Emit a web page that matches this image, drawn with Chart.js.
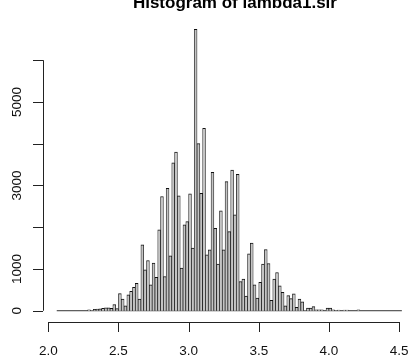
<!DOCTYPE html>
<html>
<head>
<meta charset="utf-8">
<script src="https://cdn.jsdelivr.net/npm/chart.js@4"></script>
<style>
  body { margin: 0; background: #fff; }
</style>
</head>
<body>
<canvas id="hist" width="410" height="358"></canvas>
<script>
    // bins of lambda1.sir, 0.02 wide, starting at 2.06
    const binStart = 2.06;
    const binWidth = 0.02;
    const counts = [
        0, 0, 0, 0, 0, 0, 0, 0, 0, 0,
        0, 24, 8, 35, 40, 45, 60, 70, 70, 60,
        150, 50, 410, 280, 120, 380, 462, 562, 657, 279,
        1580, 980, 1203, 621, 1139, 797, 1936, 2736, 820, 2932,
        1315, 3540, 3800, 2750, 1020, 2055, 2135, 2800, 1498, 6740,
        4000, 2812, 4366, 1338, 1458, 3314, 1976, 1116, 2390, 1458,
        3091, 1896, 3370, 2294, 3267, 700, 757, 350, 1362, 1617,
        620, 300, 680, 1115, 1466, 1130, 250, 757, 916, 598,
        438, 120, 362, 290, 406, 80, 279, 215, 10, 64,
        64, 100, 24, 24, 24, 0, 64, 64, 24, 8,
        16, 0, 16, 16, 0, 0, 0, 24, 0, 0,
        0, 0, 0, 0, 0, 0, 0, 0, 0, 0,
        0, 0, 0
    ];
    const xTicks = [2.0, 2.5, 3.0, 3.5, 4.0, 4.5];
    const xTickLabels = ['2.0', '2.5', '3.0', '3.5', '4.0', '4.5'];
    const yTicks = [0, 1000, 2000, 3000, 4000, 5000, 6000];
    const yTickLabels = ['0', '1000', '', '3000', '', '5000', ''];
    const title = 'Histogram of lambda1.sir';

    const bars = [];
    for (let i = 0; i < counts.length; i++) {
        bars.push({x: binStart + binWidth * (i + 0.5), y: counts[i]});
    }
    const binEnd = binStart + binWidth * counts.length;

    // R style axes: line only from first to last tick, ticks pointing out
    const rAxes = {
        id: 'rAxes',
        afterDraw(chart) {
            const ctx = chart.ctx;
            const x = chart.scales.x;
            const y = chart.scales.y;
            const left = chart.chartArea.left;
            const bottom = chart.chartArea.bottom;
            ctx.save();
            ctx.strokeStyle = '#222';
            ctx.lineWidth = 1;
            ctx.fillStyle = '#111';
            ctx.font = '13.5px "Liberation Sans", Arial, sans-serif';

            ctx.beginPath();
            ctx.moveTo(x.getPixelForValue(xTicks[0]), bottom + 0.5);
            ctx.lineTo(x.getPixelForValue(xTicks[xTicks.length - 1]), bottom + 0.5);
            xTicks.forEach(v => {
                const px = Math.round(x.getPixelForValue(v)) + 0.5;
                ctx.moveTo(px, bottom);
                ctx.lineTo(px, bottom + 10);
            });
            ctx.stroke();
            ctx.textAlign = 'center';
            ctx.textBaseline = 'alphabetic';
            xTicks.forEach((v, i) => {
                ctx.fillText(xTickLabels[i], x.getPixelForValue(v), bottom + 33);
            });

            ctx.beginPath();
            ctx.moveTo(left + 0.5, y.getPixelForValue(yTicks[0]));
            ctx.lineTo(left + 0.5, y.getPixelForValue(yTicks[yTicks.length - 1]));
            yTicks.forEach(v => {
                const py = Math.round(y.getPixelForValue(v)) + 0.5;
                ctx.moveTo(left, py);
                ctx.lineTo(left - 10, py);
            });
            ctx.stroke();
            yTicks.forEach((v, i) => {
                if (!yTickLabels[i]) return;
                ctx.save();
                ctx.translate(left - 22, y.getPixelForValue(v));
                ctx.rotate(-Math.PI / 2);
                ctx.fillText(yTickLabels[i], 0, 0);
                ctx.restore();
            });

            ctx.font = 'bold 17px "Liberation Sans", Arial, sans-serif';
            ctx.fillStyle = '#000';
            ctx.fillText(title, x.getPixelForValue(3.33), 8);
            ctx.restore();
        }
    };

    const ctx = document.getElementById('hist');
    const mychart = new Chart(ctx, {
        type: 'bar',
        data: {
            datasets: [
                {
                    label: 'lambda1.sir',
                    data: bars,
                    backgroundColor: '#c4c4c4',
                    borderColor: '#111',
                    borderWidth: {top: 1, left: 0.7, right: 0.7, bottom: 0},
                    barPercentage: 1,
                    categoryPercentage: 1,
                    order: 1
                },
                {
                    type: 'line',
                    label: 'base',
                    data: [{x: binStart, y: 0}, {x: binEnd, y: 0}],
                    borderColor: '#333',
                    borderWidth: 1,
                    pointRadius: 0,
                    order: 2
                }
            ]
        },
        options: {
            responsive: false,
            devicePixelRatio: 1,
            animation: false,
            layout: {padding: {left: 43, right: 0, top: 18, bottom: 36}},
            plugins: {legend: {display: false}, tooltip: {enabled: false}},
            scales: {
                x: {type: 'linear', min: 1.962, max: 4.578, offset: false, display: false},
                y: {min: -270, max: 7010, display: false}
            }
        },
        plugins: [rAxes]
    });
</script>
</body>
</html>
